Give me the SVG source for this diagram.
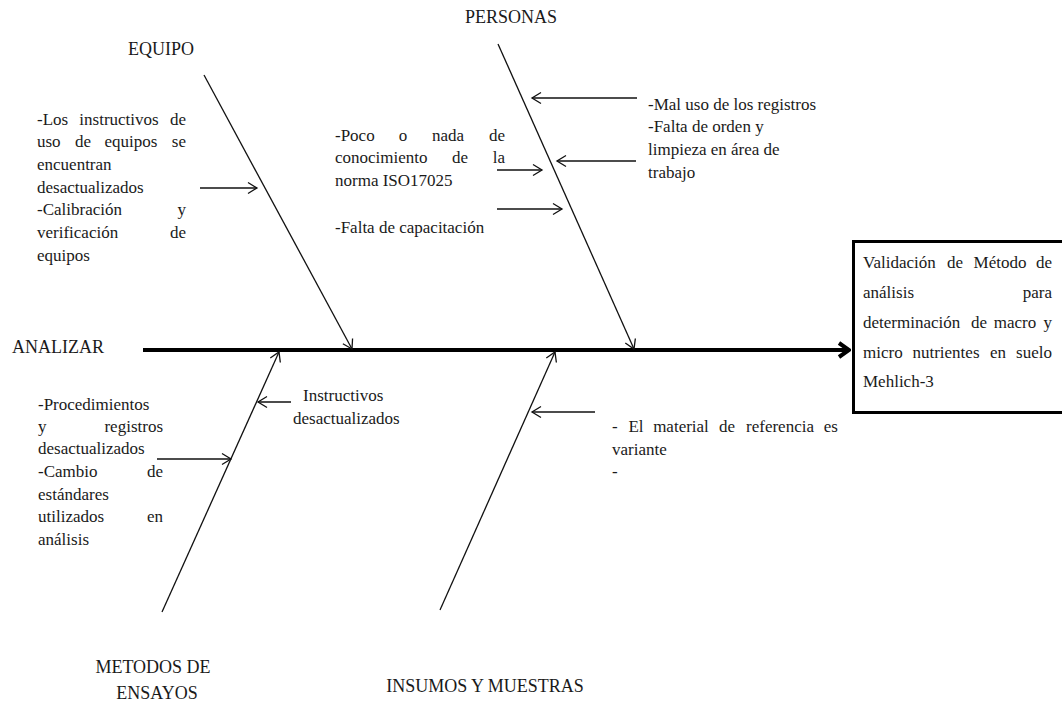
<svg xmlns="http://www.w3.org/2000/svg" width="1062" height="707" viewBox="0 0 1062 707">
<style>
text{font-family:"Liberation Serif","Times New Roman",serif;fill:#1a1a1a;font-size:17px}
.cap{font-size:18px}
.e{text-anchor:end}
.m{text-anchor:middle}
.bone{stroke:#222;stroke-width:1.3;fill:none}
.arr{stroke:#111;stroke-width:1.3;fill:none;marker-end:url(#ah)}
</style>
<defs>
<marker id="ah" markerUnits="userSpaceOnUse" viewBox="-12 -8 14 16" refX="0" refY="0" markerWidth="14" markerHeight="16" orient="auto">
<path d="M-9,-5.5 L0,0 L-9,5.5" fill="none" stroke="#111" stroke-width="1.3"/>
</marker>
<marker id="big" markerUnits="userSpaceOnUse" viewBox="-16 -10 18 20" refX="0" refY="0" markerWidth="18" markerHeight="20" orient="auto">
<path d="M-10,-7 L0,0 L-10,7" fill="none" stroke="#000" stroke-width="4"/>
</marker>
</defs>
<rect width="1062" height="707" fill="#fff"/>

<g id="connectors">
<line x1="143" y1="350" x2="849" y2="350" stroke="#000" stroke-width="4" marker-end="url(#big)"/>
<line class="arr" x1="204" y1="75" x2="352" y2="349"/>
<line class="arr" x1="498" y1="44" x2="634" y2="349"/>
<line class="arr" x1="162" y1="612" x2="279" y2="352"/>
<line class="arr" x1="440" y1="610" x2="555" y2="352"/>
<line class="arr" x1="200" y1="188" x2="257" y2="188"/>
<line class="arr" x1="637" y1="98" x2="532" y2="98"/>
<line class="arr" x1="636" y1="161" x2="557" y2="161"/>
<line class="arr" x1="497" y1="170" x2="542" y2="170"/>
<line class="arr" x1="497" y1="209" x2="562" y2="209"/>
<line class="arr" x1="291" y1="402" x2="258" y2="402"/>
<line class="arr" x1="157" y1="459" x2="231" y2="459"/>
<line class="arr" x1="595" y1="412" x2="532" y2="412"/>
</g>

<g id="effect">
<rect x="853.5" y="241.5" width="220" height="171" fill="none" stroke="#000" stroke-width="3"/>
<text x="863" y="268">Validación</text><text class="m" x="955" y="268">de</text><text class="m" x="1000" y="268">Método</text><text class="e" x="1052" y="268">de</text>
<text x="863" y="298">análisis</text><text class="e" x="1052" y="298">para</text>
<text x="863" y="328">determinación</text><text class="m" x="979" y="328">de</text><text class="m" x="1015" y="328">macro</text><text class="e" x="1052" y="328">y</text>
<text x="863" y="358">micro</text><text class="m" x="946" y="358">nutrientes</text><text class="m" x="998" y="358">en</text><text class="e" x="1052" y="358">suelo</text>
<text x="863" y="387">Mehlich-3</text>
</g>

<g id="analizar">
<text class="cap" x="12" y="353">ANALIZAR</text>
</g>

<g id="equipo">
<text class="cap" x="128" y="55">EQUIPO</text>
<text x="37" y="125">-Los</text><text class="m" x="119" y="125">instructivos</text><text class="e" x="186" y="125">de</text>
<text x="37" y="147">uso</text><text class="m" x="83" y="147">de</text><text class="m" x="131" y="147">equipos</text><text class="e" x="186" y="147">se</text>
<text x="37" y="170">encuentran</text>
<text x="37" y="193">desactualizados</text>
<text x="37" y="215">-Calibración</text><text class="e" x="186" y="215">y</text>
<text x="37" y="238">verificación</text><text class="e" x="186" y="238">de</text>
<text x="37" y="261">equipos</text>
</g>

<g id="personas">
<text class="cap" x="465" y="23">PERSONAS</text>
<text x="335" y="141">-Poco</text><text class="m" x="403" y="141">o</text><text class="m" x="448" y="141">nada</text><text class="e" x="505" y="141">de</text>
<text x="335" y="163">conocimiento</text><text class="m" x="460" y="163">de</text><text class="e" x="505" y="163">la</text>
<text x="335" y="186">norma ISO17025</text>
<text x="335" y="233">-Falta de capacitación</text>
<text x="648" y="110">-Mal uso de los registros</text>
<text x="648" y="132">-Falta de orden y</text>
<text x="648" y="155">limpieza en área de</text>
<text x="648" y="178">trabajo</text>
</g>

<g id="metodos">
<text class="cap m" x="153" y="673">METODOS DE</text>
<text class="cap m" x="157" y="699">ENSAYOS</text>
<text x="38" y="410">-Procedimientos</text>
<text x="38" y="432">y</text><text class="e" x="163" y="432">registros</text>
<text x="38" y="454">desactualizados</text>
<text x="38" y="477">-Cambio</text><text class="e" x="163" y="477">de</text>
<text x="38" y="500">estándares</text>
<text x="38" y="522">utilizados</text><text class="e" x="163" y="522">en</text>
<text x="38" y="545">análisis</text>
<text x="303" y="401">Instructivos</text>
<text x="293" y="424">desactualizados</text>
</g>

<g id="insumos">
<text class="cap m" x="485" y="692">INSUMOS Y MUESTRAS</text>
<text x="612" y="432">-</text><text class="m" x="636" y="432">El</text><text class="m" x="681" y="432">material</text><text class="m" x="727" y="432">de</text><text class="m" x="780" y="432">referencia</text><text class="e" x="838" y="432">es</text>
<text x="612" y="455">variante</text>
<text x="612" y="477">-</text>
</g>
</svg>
